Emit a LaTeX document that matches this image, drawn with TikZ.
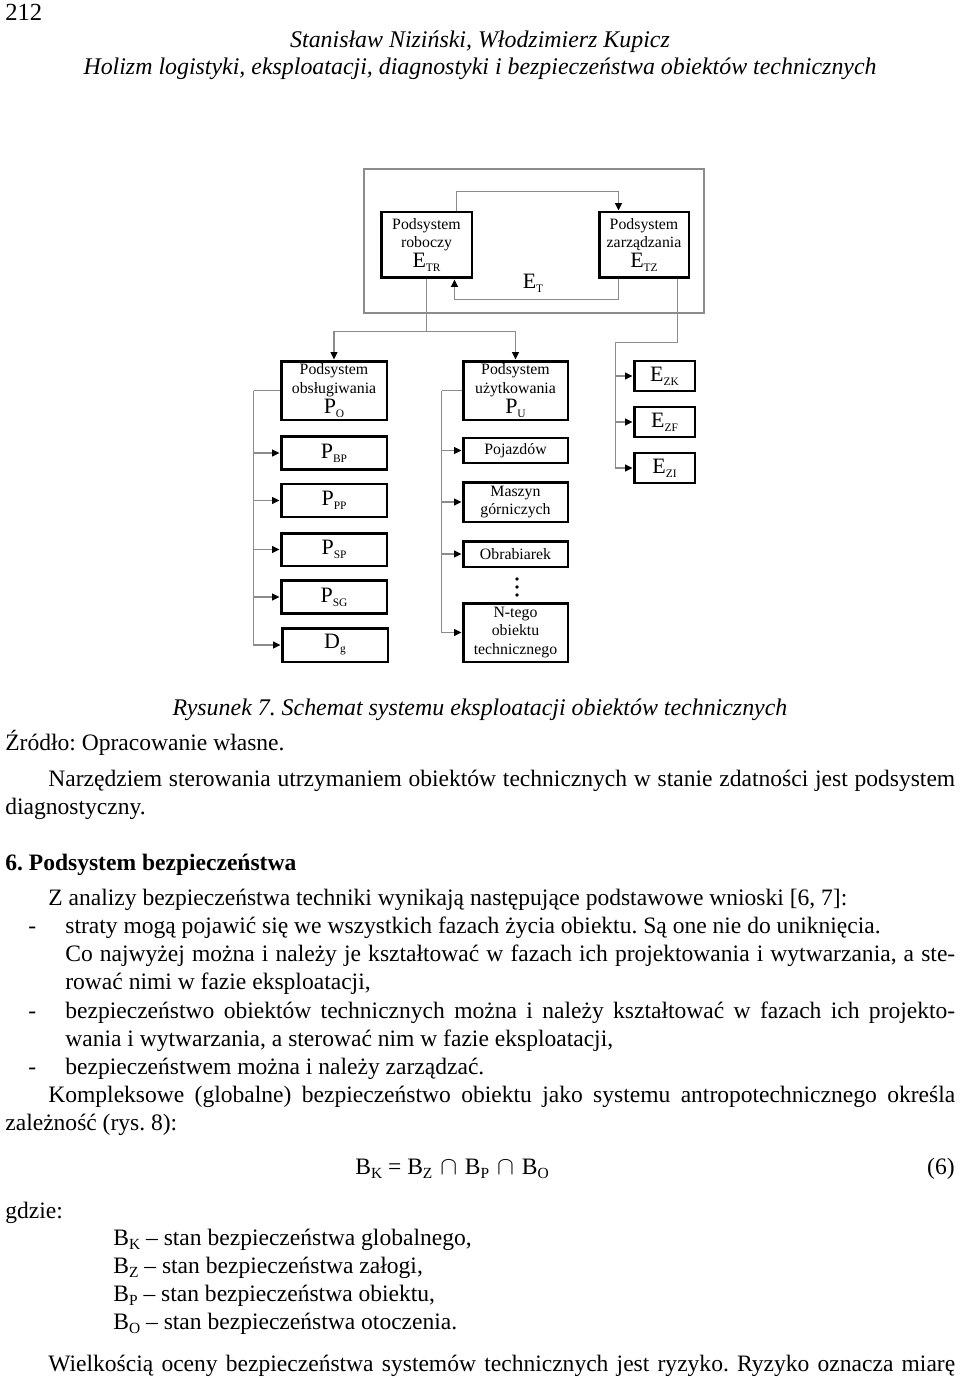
\documentclass[tikz,border=0pt]{standalone}
\usepackage{fontspec}
\setmainfont{Liberation Serif}
\usetikzlibrary{arrows.meta}
\newcommand{\sbx}[1]{\raisebox{-0.4ex}{\fontsize{6.5}{6.5}\selectfont #1}}
\newcommand{\sbt}[1]{\raisebox{-0.45ex}{\fontsize{8.8}{8.8}\selectfont #1}}
\newcommand{\lbl}[2]{{\fontsize{12.5}{12.5}\selectfont #1\sbx{#2}}}
\frenchspacing
\begin{document}
\begin{tikzpicture}[x=0.02cm,y=-0.02cm,
    box/.style={draw=black,line width=1.7pt,inner sep=0pt,align=center,font=\fontsize{9}{10.5}\selectfont},
    link/.style={draw=black!45,line width=0.6pt},
    tip/.style={-{Triangle[length=0.15cm,width=0.14cm,color=black]}},
    txt/.style={anchor=base west,inner sep=0pt,font=\fontsize{13.4}{15}\selectfont},
    itxt/.style={txt,anchor=base,font=\itshape\fontsize{13.6}{15}\selectfont}]
  \useasboundingbox (0,0) rectangle (960,1378);
  % header
  \node[txt,font=\fontsize{14}{15}\selectfont] (page) at (5,21) {212};
  \node[itxt] (authors) at (480,48) {Stanisław Niziński, Włodzimierz Kupicz};
  \node[itxt] (title) at (480,75) {Holizm logistyki, eksploatacji, diagnostyki i bezpieczeństwa obiektów technicznych};
  % system E_T
  \draw[link] (364,169) rectangle (704,313);
  \node[box,minimum width=1.82cm,minimum height=1.32cm] (TR) at (426.5,245) {Podsystem\\roboczy\\[1pt]\lbl{E}{TR}};
  \node[box,minimum width=1.8cm,minimum height=1.32cm] (TZ) at (644,245) {Podsystem\\zarządzania\\[1pt]\lbl{E}{TZ}};
  \node (ET) at (533,283) {\lbl{E}{T}};
  \draw[link,tip] ([xshift=-0.34cm]TR.north east) -- ++(0,-19) -| ([xshift=0.42cm]TZ.north west);
  \draw[link,tip] ([xshift=0.42cm]TZ.south west) -- ++(0,20) -| ([xshift=-0.38cm]TR.south east);
  % podsystemy
  \node[box,minimum width=2.12cm,minimum height=1.18cm] (PO) at (334,390.5) {Podsystem\\obsługiwania\\[1pt]\lbl{P}{O}};
  \node[box,minimum width=2.12cm,minimum height=0.65cm] (PBP) at (334,453) {\lbl{P}{BP}};
  \node[box,minimum width=2.12cm,minimum height=0.66cm] (PPP) at (334,500.5) {\lbl{P}{PP}};
  \node[box,minimum width=2.12cm,minimum height=0.66cm] (PSP) at (334,549.5) {\lbl{P}{SP}};
  \node[box,minimum width=2.12cm,minimum height=0.65cm] (PSG) at (334,597) {\lbl{P}{SG}};
  \node[box,minimum width=2.12cm,minimum height=0.68cm] (Dg) at (335,645) {\lbl{D}{g}};
  \node[box,minimum width=2.1cm,minimum height=1.18cm] (PU) at (515.5,390.5) {Podsystem\\użytkowania\\[1pt]\lbl{P}{U}};
  \node[box,minimum width=2.1cm,minimum height=0.5cm] (Poj) at (515.5,450.5) {Pojazdów};
  \node[box,minimum width=2.1cm,minimum height=0.8cm] (Masz) at (515.5,502) {Maszyn\\górniczych};
  \node[box,minimum width=2.1cm,minimum height=0.52cm] (Obr) at (515.5,554) {Obrabiarek};
  \node[box,minimum width=2.1cm,minimum height=1.18cm] (Ntego) at (515.5,632.5) {N-tego\\obiektu\\technicznego};
  \node[box,minimum width=1.22cm,minimum height=0.6cm] (EZK) at (664.5,376) {\lbl{E}{ZK}};
  \node[box,minimum width=1.22cm,minimum height=0.6cm] (EZF) at (664.5,422) {\lbl{E}{ZF}};
  \node[box,minimum width=1.22cm,minimum height=0.6cm] (EZI) at (664.5,468) {\lbl{E}{ZI}};
  \foreach \y in {579,587,595} \fill (517,\y) circle (0.037cm);
  % polaczenia
  \draw[link] (TR.south) -- ++(0,52) coordinate (fork);
  \draw[link,tip] (fork) -| (PO.north);
  \draw[link,tip] (fork) -| (PU.north);
  \draw[link] ([xshift=-0.26cm]TZ.south east) -- ++(0,63) -- ++(-62,0) coordinate (ebus);
  \foreach \n in {EZK,EZF,EZI} \draw[link,tip] (ebus) |- (\n.west);
  \draw[link] (PO.west) -- ++(-26,0) coordinate (obus);
  \foreach \n in {PBP,PPP,PSP,PSG,Dg} \draw[link,tip] (obus) |- (\n.west);
  \draw[link] (PU.west) -- ++(-20,0) coordinate (ubus);
  \foreach \n in {Poj,Masz,Obr,Ntego} \draw[link,tip] (ubus) |- (\n.west);
  % tekst
  \node[itxt] (caption) at (480,715) {Rysunek 7. Schemat systemu eksploatacji obiektów technicznych};
  \node[txt] (source) at (5,750) {Źródło: Opracowanie własne.};
  \node[txt] (par1a) at (48,786) {\makebox[18.14cm][s]{Narzędziem sterowania utrzymaniem obiektów technicznych w stanie zdatności jest podsystem}};
  \node[txt] (par1b) at (5,814) {diagnostyczny.};
  \node[txt,font=\bfseries\fontsize{13.4}{15}\selectfont] (sect) at (5,870) {6. Podsystem bezpieczeństwa};
  \node[txt] (par2) at (48,905) {Z analizy bezpieczeństwa techniki wynikają następujące podstawowe wnioski [6, 7]:};
  \node[txt] (d1) at (28,933) {-};
  \node[txt] (i1a) at (65,933) {straty mogą pojawić się we wszystkich fazach życia obiektu. Są one nie do uniknięcia.};
  \node[txt] (i1b) at (65,961) {\makebox[17.8cm][s]{Co najwyżej można i należy je kształtować w fazach ich projektowania i wytwarzania, a ste-}};
  \node[txt] (i1c) at (65,989) {rować nimi w fazie eksploatacji,};
  \node[txt] (d2) at (28,1018) {-};
  \node[txt] (i2a) at (65,1018) {\makebox[17.8cm][s]{bezpieczeństwo obiektów technicznych można i należy kształtować w fazach ich projekto-}};
  \node[txt] (i2b) at (65,1046) {wania i wytwarzania, a sterować nim w fazie eksploatacji,};
  \node[txt] (d3) at (28,1074) {-};
  \node[txt] (i3) at (65,1074) {bezpieczeństwem można i należy zarządzać.};
  \node[txt] (par3a) at (48,1102) {\makebox[18.14cm][s]{Kompleksowe (globalne) bezpieczeństwo obiektu jako systemu antropotechnicznego określa}};
  \node[txt] (par3b) at (5,1130) {zależność (rys. 8):};
  \node[txt] (eq) at (355,1174) {B\sbt{K} = B\sbt{Z}\,\,$\cap$\,\,B\sbt{P}\,\,$\cap$\,\,B\sbt{O}};
  \node[txt,anchor=base east] (eqno) at (955,1174) {(6)};
  \node[txt] (gdzie) at (5,1218) {gdzie:};
  \node[txt] (bk) at (113,1245) {B\sbt{K} – stan bezpieczeństwa globalnego,};
  \node[txt] (bz) at (113,1273) {B\sbt{Z} – stan bezpieczeństwa załogi,};
  \node[txt] (bp) at (113,1301) {B\sbt{P} – stan bezpieczeństwa obiektu,};
  \node[txt] (bo) at (113,1329) {B\sbt{O} – stan bezpieczeństwa otoczenia.};
  \node[txt] (par4) at (48,1371) {\makebox[18.14cm][s]{Wielkością oceny bezpieczeństwa systemów technicznych jest ryzyko. Ryzyko oznacza miarę}};
\end{tikzpicture}
\end{document}
